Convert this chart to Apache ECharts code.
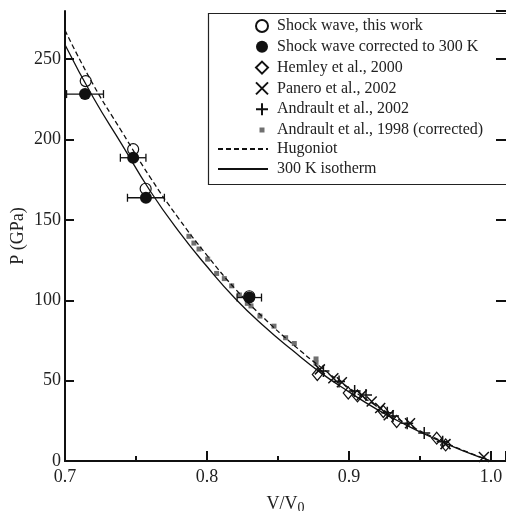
<!DOCTYPE html>
<html>
<head>
<meta charset="utf-8">
<script src="https://cdn.jsdelivr.net/npm/echarts@6/dist/echarts.min.js"></script>
<style>
  html, body { margin: 0; background: #fff; }
  #chart { width: 506px; height: 511px; }
</style>
</head>
<body>
<div id="chart"></div>
<script>
// values: [V/V0, P (GPa)]
const shockOpen = [[0.7146, 236.4], [0.748, 194.0], [0.7568, 169.4], [0.8298, 102.5]];
const shockFilled = [[0.7141, 228.3], [0.748, 188.7], [0.757, 163.8], [0.8298, 101.7]];
const shockErr = [0.013, 0.009, 0.013, 0.0086];   // +/- in V/V0

const hemley = [[0.8777, 53.8], [0.8995, 42.3], [0.906, 40.5], [0.9242, 30.8], [0.9336, 24.6], [0.9618, 14.2], [0.9681, 10.0]];
const panero = [[0.8795, 57.0], [0.889, 51.5], [0.895, 49.0], [0.909, 41.0], [0.916, 37.0], [0.922, 33.0],
                [0.928, 28.5], [0.943, 23.5], [0.968, 10.5], [0.995, 2.5]];
const andrault02 = [[0.882, 56.0], [0.893, 49.5], [0.904, 43.5], [0.912, 41.0], [0.927, 30.0], [0.931, 28.0],
                    [0.941, 23.5], [0.953, 17.5], [0.966, 12.0]];
const andrault98 = [[0.7873, 139.8], [0.7908, 135.6], [0.7944, 131.9], [0.8005, 125.6], [0.8068, 116.7],
                    [0.8122, 113.5], [0.8174, 109.0], [0.8228, 103.3], [0.8284, 98.1], [0.831, 96.5],
                    [0.8373, 90.2], [0.8472, 83.9], [0.8554, 76.7], [0.8615, 73.1], [0.8768, 63.5], [0.8768, 61.0]];

const curveV = [0.70, 0.72, 0.74, 0.76, 0.78, 0.80, 0.82, 0.84, 0.86, 0.88, 0.90, 0.92, 0.94, 0.96, 0.98, 1.00];
const hugoniotP = [268, 234, 205, 176.5, 151, 128, 107, 89, 73, 58.5, 45.5, 34, 23.5, 14.5, 6.8, 0];
const isothermP = [259, 226, 197, 168, 143, 121, 101, 84, 69, 55, 43, 32, 22.5, 14, 6.5, 0];

const xTicks = [0.7, 0.8, 0.9, 1.0];
const FONT = 'Liberation Serif';

const names = ['Shock wave, this work', 'Shock wave corrected to 300 K', 'Hemley et al., 2000',
               'Panero et al., 2002', 'Andrault et al., 2002', 'Andrault et al., 1998 (corrected)',
               'Hugoniot', '300 K isotherm'];

const CROSS = 'path://M0,0L10,10M0,10L10,0';
const PLUS = 'path://M5,0L5,10M0,5L10,5';
const SMALLSQ = 'path://M0,0M12,12M3.5,3.5L8.5,3.5L8.5,8.5L3.5,8.5Z';

const chart = echarts.init(document.getElementById('chart'), null, { renderer: 'canvas' });

const errData = shockFilled.map((p, i) => [p[0], p[1], shockErr[i]]);
const ink = '#111';
const tickStyle = { color: ink, width: 2 };
const noMark = { color: 'transparent', borderColor: 'transparent', borderWidth: 0, opacity: 0 };

chart.setOption({
  animation: false,
  backgroundColor: '#fff',
  textStyle: { fontFamily: FONT },
  grid: { left: 65, right: 0, top: 11, bottom: 50, outerBoundsMode: 'none', containLabel: false },
  graphic: [{
    type: 'rect', left: 206, top: 11, z: 100,
    shape: { width: 310, height: 171 },
    style: { fill: 'none', stroke: '#222', lineWidth: 1.2 }
  }],
  legend: [{
    data: names.slice(0, 6).map((n, i) => i === 5 ? { name: n, icon: SMALLSQ } : n),
    orient: 'vertical', left: 255, top: 18, padding: 0,
    itemWidth: 12, itemHeight: 12, itemGap: 4.8,
    textStyle: { fontFamily: FONT, fontSize: 16, color: '#222', padding: [0, 0, 0, 4] },
    selectedMode: false
  }, {
    data: names.slice(6).map((n) => ({ name: n, itemStyle: noMark })),
    orient: 'vertical', left: 217, top: 141, padding: 0,
    itemWidth: 50, itemHeight: 12, itemGap: 4,
    textStyle: { fontFamily: FONT, fontSize: 16, color: '#222', padding: [0, 0, 0, 4] },
    selectedMode: false
  }],
  xAxis: [{
    type: 'value', min: 0.7, max: 1.0106, interval: 0.1,
    name: 'V/V{sub|0}', nameLocation: 'middle', nameGap: 32,
    nameTextStyle: {
      fontFamily: FONT, fontSize: 18, color: '#222',
      rich: { sub: { fontFamily: FONT, fontSize: 14, color: '#222', padding: [8, 0, 0, 0] } }
    },
    axisLine: { lineStyle: { color: ink, width: 2 } },
    axisTick: { inside: true, length: 10, lineStyle: tickStyle },
    minorTick: { show: true, splitNumber: 2, length: 5, lineStyle: tickStyle },
    axisLabel: {
      fontFamily: FONT, fontSize: 18, color: '#222', margin: 7, showMaxLabel: false,
      formatter: (v) => xTicks.some((t) => Math.abs(t - v) < 1e-6) ? v.toFixed(1) : ''
    },
    splitLine: { show: false }
  }, {
    type: 'value', min: 0.7, max: 1.0106, position: 'top',
    axisLine: { show: true, lineStyle: { color: ink, width: 1.5 } },
    axisTick: { show: false }, axisLabel: { show: false }, splitLine: { show: false }
  }],
  yAxis: [{
    type: 'value', min: 0, max: 280, interval: 50,
    name: 'P (GPa)', nameLocation: 'middle', nameGap: 38, nameMoveOverlap: false,
    nameTextStyle: { fontFamily: FONT, fontSize: 18, color: '#222' },
    axisLine: { lineStyle: { color: ink, width: 2 } },
    axisTick: { inside: true, length: 9, lineStyle: tickStyle },
    axisLabel: { fontFamily: FONT, fontSize: 18, color: '#222', margin: 4, showMaxLabel: false },
    splitLine: { show: false }
  }, {
    type: 'value', min: 0, max: 280, interval: 50, position: 'right',
    axisLine: { show: false },
    axisTick: { show: true, inside: true, length: 10, lineStyle: tickStyle },
    axisLabel: { show: false },
    splitLine: { show: false }
  }],
  series: [
    {
      name: names[6], type: 'line', symbol: 'none', smooth: true, z: 3,
      data: curveV.map((v, i) => [v, hugoniotP[i]]),
      lineStyle: { color: ink, width: 1.3, type: [5, 3] }, itemStyle: { color: ink }
    },
    {
      name: names[7], type: 'line', symbol: 'none', smooth: true, z: 3,
      data: curveV.map((v, i) => [v, isothermP[i]]),
      lineStyle: { color: ink, width: 1.3 }, itemStyle: { color: ink }
    },
    {
      name: names[5], type: 'scatter', symbol: 'rect', symbolSize: 5, z: 2,
      data: andrault98, itemStyle: { color: '#707070', opacity: 1 }
    },
    {
      name: names[2], type: 'scatter', symbol: 'diamond', symbolSize: [10, 12], z: 4,
      data: hemley, itemStyle: { color: 'transparent', borderColor: ink, borderWidth: 1.2, opacity: 1 }
    },
    {
      name: names[3], type: 'scatter', symbol: CROSS, symbolSize: 10, z: 4,
      data: panero, itemStyle: { color: ink, borderColor: ink, borderWidth: 1.5, opacity: 1 }
    },
    {
      name: names[4], type: 'scatter', symbol: PLUS, symbolSize: 12, z: 4,
      data: andrault02, itemStyle: { color: ink, borderColor: ink, borderWidth: 1.5, opacity: 1 }
    },
    {
      type: 'custom', z: 5,
      data: errData,
      encode: { x: 0, y: 1 },
      renderItem: (params, api) => {
        const x = api.value(0), y = api.value(1), e = api.value(2);
        const a = api.coord([x - e, y]);
        const b = api.coord([x + e, y]);
        const st = { stroke: ink, lineWidth: 1.3 };
        return {
          type: 'group',
          children: [
            { type: 'line', shape: { x1: a[0], y1: a[1], x2: b[0], y2: b[1] }, style: st },
            { type: 'line', shape: { x1: a[0], y1: a[1] - 4, x2: a[0], y2: a[1] + 4 }, style: st },
            { type: 'line', shape: { x1: b[0], y1: b[1] - 4, x2: b[0], y2: b[1] + 4 }, style: st }
          ]
        };
      }
    },
    {
      name: names[0], type: 'scatter', symbol: 'circle', symbolSize: 11, z: 6,
      data: shockOpen, itemStyle: { color: 'transparent', borderColor: ink, borderWidth: 1.2, opacity: 1 }
    },
    {
      name: names[1], type: 'scatter', symbol: 'circle', symbolSize: 12, z: 7,
      data: shockFilled, itemStyle: { color: ink, opacity: 1 }
    }
  ]
});
</script>
</body>
</html>
